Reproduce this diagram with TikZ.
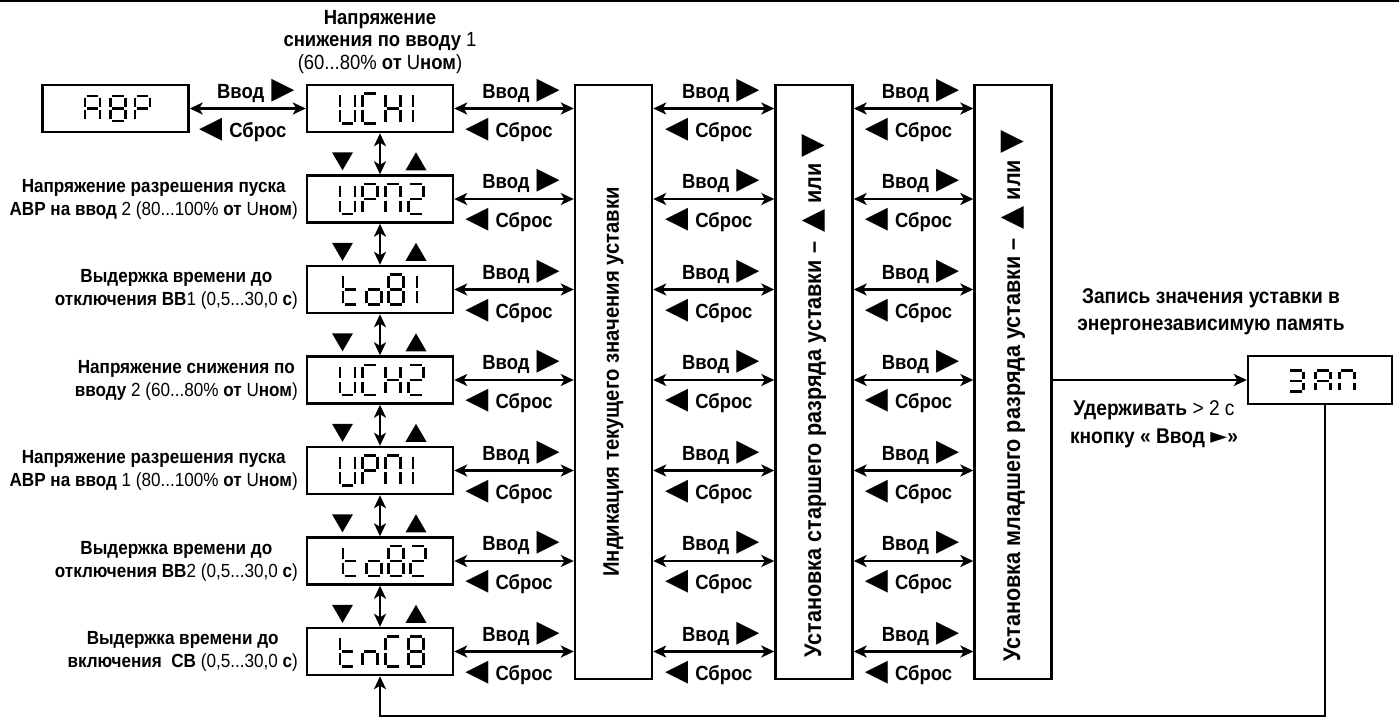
\documentclass[tikz,border=0pt]{standalone}
\usepackage{fontspec}
\setmainfont{Liberation Sans}[FakeStretch=0.9]
\newfontfamily\dejavu{DejaVu Sans}
\usetikzlibrary{arrows.meta}
\newcommand\rg[1]{{\mdseries #1}}
\newcommand\RT{{\dejavu\fontsize{30}{24}\selectfont\char"25B6}}
\newcommand\LT{{\dejavu\fontsize{30}{24}\selectfont\char"25C0}}
\newcommand\UT{{\dejavu\fontsize{30}{24}\selectfont\char"25B2}}
\newcommand\DT{{\dejavu\fontsize{30}{24}\selectfont\char"25BC}}
\newcommand\PT{{\dejavu\fontsize{22}{22}\selectfont\char"25BA}}
\newcommand\segW{7.5}
\newcommand\segH{15}
\newcommand\segG{1.6}
\newcommand\Sa{\draw[seg] ({-\segW+\segG},{-\segH}) -- ({\segW-\segG},{-\segH});}
\newcommand\Sb{\draw[seg] (\segW,{-\segH+\segG}) -- (\segW,{-\segG});}
\newcommand\Sc{\draw[seg] (\segW,\segG) -- (\segW,{\segH-\segG});}
\newcommand\Sd{\draw[seg] ({-\segW+\segG},\segH) -- ({\segW-\segG},\segH);}
\newcommand\Se{\draw[seg] (-\segW,\segG) -- (-\segW,{\segH-\segG});}
\newcommand\Sf{\draw[seg] (-\segW,{-\segH+\segG}) -- (-\segW,{-\segG});}
\newcommand\Sg{\draw[seg] ({-\segW+\segG},0) -- ({\segW-\segG},0);}
\newcommand\GA{\Sa\Sb\Sc\Se\Sf\Sg}
\newcommand\GEight{\Sa\Sb\Sc\Sd\Se\Sf\Sg}
\newcommand\GP{\Sa\Sb\Se\Sf\Sg}
\newcommand\GU{\Sb\Sc\Sd\Se\Sf}
\newcommand\GC{\Sa\Sd\Se\Sf}
\newcommand\GH{\Sb\Sc\Se\Sf\Sg}
\newcommand\GPi{\Sa\Sb\Sc\Se\Sf}
\newcommand\GTwo{\Sa\Sb\Sg\Se\Sd}
\newcommand\GThree{\Sa\Sb\Sc\Sd\Sg}
\newcommand\Gt{\Sd\Se\Sf\Sg}
\newcommand\Go{\Sc\Sd\Se\Sg}
\newcommand\Gn{\Sc\Se\Sg}
\newcommand\GOne{\draw[seg] (0,{-\segH+\segG}) -- (0,{-\segG}); \draw[seg] (0,\segG) -- (0,{\segH-\segG});}
\newcommand\dig[3]{\begin{scope}[shift={(#1,#2)}]#3\end{scope}}
\newcommand\dispfour[5]{\dig{347.5}{#1}{#2}\dig{370}{#1}{#3}\dig{393}{#1}{#4}\dig{416}{#1}{#5}}
\begin{document}
\begin{tikzpicture}[x=1pt,y=-1pt,
  disp/.style={draw, line width=2.4pt, minimum width=146pt, minimum height=47pt, inner sep=0pt},
  vbox/.style={draw, line width=2.4pt, minimum width=77pt, minimum height=594pt, inner sep=0pt},
  link/.style={line width=2.2pt, {Stealth[length=13pt,width=12pt,inset=3.5pt]}-{Stealth[length=13pt,width=12pt,inset=3.5pt]}},
  one/.style={line width=2.2pt, -{Stealth[length=13pt,width=12pt,inset=3.5pt]}},
  seg/.style={line width=2.6pt},
  lbl/.style={font=\fontsize{20.5}{24}\selectfont\bfseries, inner sep=0pt},
  desc/.style={font=\fontsize{19}{23}\selectfont\bfseries, align=center, inner sep=0pt, anchor=east},
  tdesc/.style={font=\fontsize{20.5}{22.5}\selectfont\bfseries, align=center, inner sep=0pt},
  rlbl/.style={font=\fontsize{21.3}{27.5}\selectfont\bfseries, align=center, inner sep=0pt},
  vtext/.style={font=\fontsize{22.5}{25}\selectfont\bfseries, rotate=90, inner sep=0pt},
  vtextb/.style={font=\fontsize{24}{26}\selectfont\bfseries, rotate=90, inner sep=0pt}
]
\useasboundingbox (0,0) rectangle (1399,718);
\draw[line width=1.5pt] (0,1) -- (1399,1);

% display boxes
\node[disp] (abr) at (115.5,108.5) {};
\foreach \r/\y in {1/108.5,2/199,3/289.5,4/380,5/470.5,6/561,7/651.5}
  \node[disp] (d\r) at (380,\y) {};
\node[disp, minimum width=144pt, minimum height=48pt] (zap) at (1320,380) {};

% vertical boxes
\node[vbox] (v1) at (613.5,382) {};
\node[vbox] (v2) at (814,382) {};
\node[vbox] (v3) at (1013,382) {};
\node[vtext] (v1t) at (v1) {Индикация текущего значения уставки};
\node[vtextb] (v2t) at ([yshift=-14pt]v2.center) {Установка старшего разряда уставки –\hspace{3pt} \UT\ или \DT};
\node[vtextb] (v3t) at ([yshift=-14pt]v3.center) {Установка младшего разряда уставки –\hspace{3pt} \UT\ или \DT};

% seven-segment contents
\renewcommand\segH{12.5}
\dig{92.5}{108.5}{\GA}\dig{118}{108.5}{\GEight}\dig{142.5}{108.5}{\GP}
\renewcommand\segH{15}
\dig{347.5}{108.5}{\GU}\dig{370}{108.5}{\GC}\dig{393}{108.5}{\GH}\dig{413}{108.5}{\GOne}
\dispfour{199}{\GU}{\GP}{\GPi}{\GTwo}
\dig{350.5}{289.5}{\Gt}\dig{374}{289.5}{\Go}\dig{396}{289.5}{\GEight}\dig{417}{289.5}{\GOne}
\dispfour{380}{\GU}{\GC}{\GH}{\GTwo}
\dig{347.5}{470.5}{\GU}\dig{370}{470.5}{\GP}\dig{393}{470.5}{\GPi}\dig{413}{470.5}{\GOne}
\dig{350.5}{561}{\Gt}\dig{374}{561}{\Go}\dig{396}{561}{\GEight}\dig{418}{561}{\GTwo}
\dispfour{651.5}{\Gt}{\Gn}{\GC}{\GEight}
\renewcommand\segH{10.5}
\dig{1296}{381}{\GThree}\dig{1323}{381}{\GA}\dig{1347}{381}{\GPi}

% row connectors
\draw[link] (abr.east) -- (d1.west)
  node[midway,lbl,xshift=8pt,yshift=18pt]{Ввод\hspace{7pt}\RT}
  node[midway,lbl,xshift=-5pt,yshift=-21pt]{\LT\hspace{7pt}Сброс};
\foreach \r in {1,...,7}{
  \draw[link] (d\r.east) -- (d\r.east -| v1.west)
    node[midway,lbl,xshift=7pt,yshift=18pt]{Ввод\hspace{7pt}\RT}
    node[midway,lbl,xshift=-5pt,yshift=-21pt]{\LT\hspace{7pt}Сброс};
  \draw[link] (v1.east |- d\r.east) -- (v2.west |- d\r.east)
    node[midway,lbl,xshift=7pt,yshift=18pt]{Ввод\hspace{7pt}\RT}
    node[midway,lbl,xshift=-5pt,yshift=-21pt]{\LT\hspace{7pt}Сброс};
  \draw[link] (v2.east |- d\r.east) -- (v3.west |- d\r.east)
    node[midway,lbl,xshift=7pt,yshift=18pt]{Ввод\hspace{7pt}\RT}
    node[midway,lbl,xshift=-5pt,yshift=-21pt]{\LT\hspace{7pt}Сброс};
}
% vertical connectors with triangles
\foreach \r/\n in {1/2,2/3,3/4,4/5,5/6,6/7}{
  \draw[link] (d\r.south) -- (d\n.north);
  \fill[shift={(d\n.north)}] (-37.5,-4) -- (-48,-22) -- (-27,-22) -- cycle;
  \fill[shift={(d\n.north)}] (36,-22) -- (25.5,-4) -- (46.5,-4) -- cycle;
}

% right side
\draw[one] (v3.east |- zap.west) -- (zap.west);
\draw[one] ([xshift=5pt]zap.south) -- ++(0,311) -| (d7.south);
\node[rlbl] (zt) at (1211,312) {Запись значения уставки в\\энергонезависимую память};
\node[rlbl] (ht) at (1154,424.5) {Удерживать \rg{> 2 с}\\кнопку « Ввод \PT»};

% descriptions
\node[tdesc] (t1) at (380,42) {Напряжение\\снижения по вводу \rg{1}\\\rg{(60...80\%} от \rg{U}ном\rg{)}};
\node[desc] (t2) at (298,199) {Напряжение разрешения пуска\\АВР на ввод \rg{2 (80...100\%} от \rg{U}ном\rg{)}};
\node[desc] (t3) at (298,289.5) {Выдержка времени до\\отключения ВВ\rg{1 (0,5...30,0} с\rg{)}};
\node[desc] (t4) at (298,380) {Напряжение снижения по\\вводу \rg{2 (60...80\%} от \rg{U}ном\rg{)}};
\node[desc] (t5) at (298,470.5) {Напряжение разрешения пуска\\АВР на ввод \rg{1 (80...100\%} от \rg{U}ном\rg{)}};
\node[desc] (t6) at (298,561) {Выдержка времени до\\отключения ВВ\rg{2 (0,5...30,0} с\rg{)}};
\node[desc] (t7) at (298,651.5) {Выдержка времени до\\включения~~СВ \rg{(0,5...30,0} с\rg{)}};
\end{tikzpicture}
\end{document}
